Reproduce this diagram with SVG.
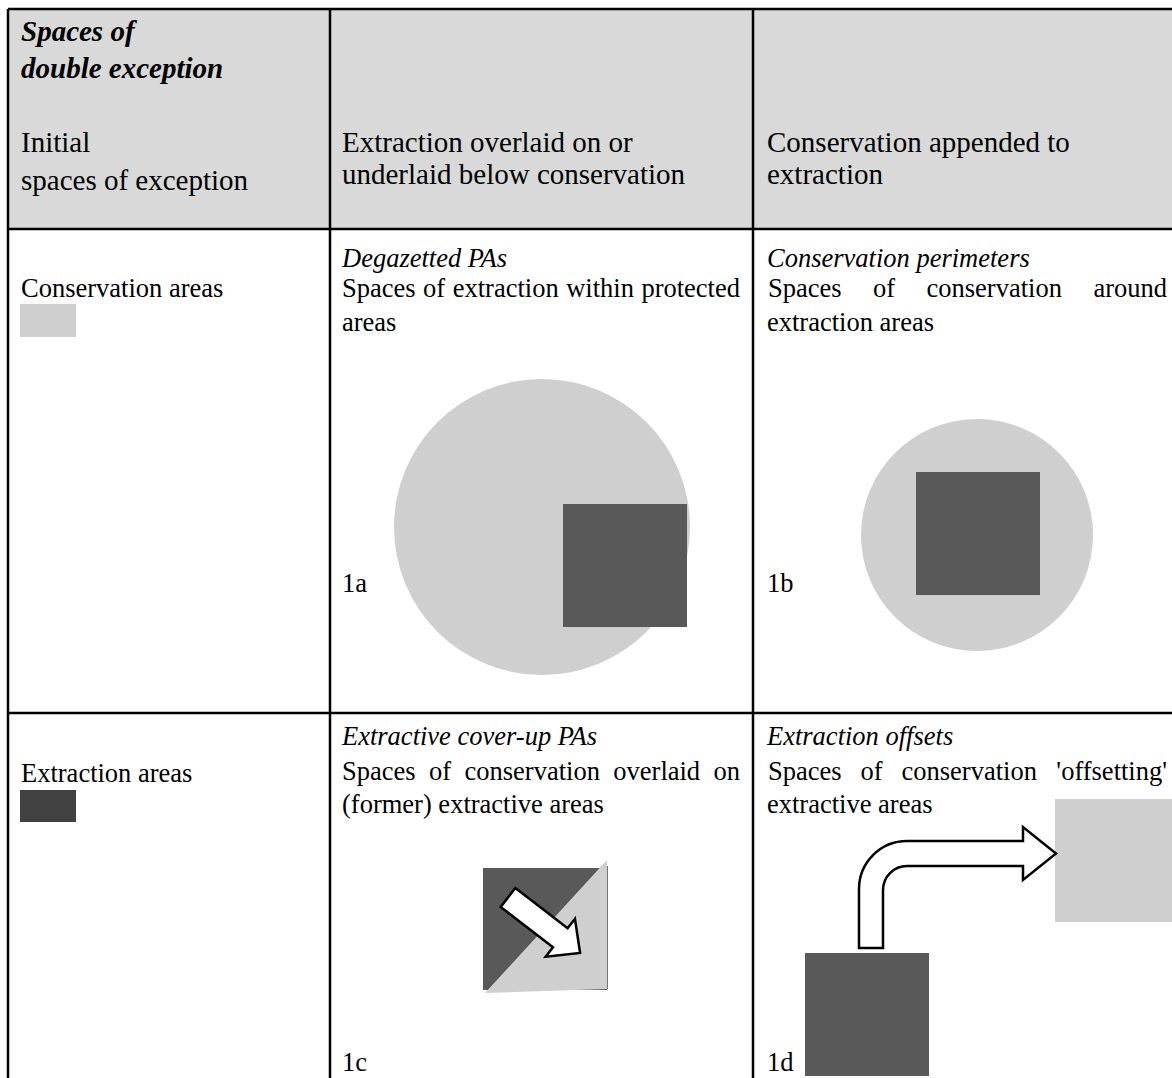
<svg xmlns="http://www.w3.org/2000/svg" width="1172" height="1078" viewBox="0 0 1172 1078">
<style>
text{font-family:"Liberation Serif","Times New Roman",serif;fill:#000}
.h{font-size:29px}
.hb{font-size:29px;font-weight:bold;font-style:italic}
.b{font-size:26.5px}
.i{font-size:26.5px;font-style:italic}
.grid{stroke:#000;stroke-width:2.5;fill:none}
.cons{fill:#d0cfd0}
.extr{fill:#595959}
.arrow{fill:#fff;stroke:#000;stroke-width:2.5;stroke-linejoin:miter}
</style>
<rect x="0" y="0" width="1172" height="1078" fill="#fff"/>
<rect x="8" y="9" width="1166" height="220" fill="#d9d9d9"/>
<g id="grid" class="grid">
<line x1="8" y1="9" x2="1172" y2="9"/>
<line x1="8" y1="9" x2="8" y2="1078"/>
<line x1="330" y1="9" x2="330" y2="1078"/>
<line x1="753" y1="9" x2="753" y2="1078"/>
<line x1="8" y1="229" x2="1172" y2="229"/>
<line x1="8" y1="713" x2="1172" y2="713"/>
</g>
<g id="header-left">
<text class="hb" x="21" y="41">Spaces of</text>
<text class="hb" x="21" y="78">double exception</text>
<text class="h" x="21" y="152">Initial</text>
<text class="h" x="21" y="190">spaces of exception</text>
</g>
<g id="header-mid">
<text class="h" x="342" y="152">Extraction overlaid on or</text>
<text class="h" x="342" y="184">underlaid below conservation</text>
</g>
<g id="header-right">
<text class="h" x="767" y="152">Conservation appended to</text>
<text class="h" x="767" y="184">extraction</text>
</g>
<g id="row-conservation">
<text class="b" x="21" y="297">Conservation areas</text>
<rect class="cons" x="20" y="304" width="56" height="33"/>
</g>
<g id="row-extraction">
<text class="b" x="21" y="782">Extraction areas</text>
<rect x="20" y="790" width="56" height="32" fill="#414141"/>
</g>
<g id="cell-1a">
<text class="i" x="342" y="267">Degazetted PAs</text>
<text class="b" x="342" y="297">Spaces</text>
<text class="b" x="423.1" y="297">of</text>
<text class="b" x="452.7" y="297">extraction</text>
<text class="b" x="566.2" y="297">within</text>
<text class="b" x="740" y="297" text-anchor="end">protected</text>
<text class="b" x="342" y="331">areas</text>
<circle class="cons" cx="542" cy="527" r="148"/>
<rect class="extr" x="563" y="504" width="124" height="123"/>
<text class="b" x="342" y="592">1a</text>
</g>
<g id="cell-1b">
<text class="i" x="767" y="267">Conservation perimeters</text>
<text class="b" x="768" y="297">Spaces</text>
<text class="b" x="873" y="297">of</text>
<text class="b" x="926.5" y="297">conservation</text>
<text class="b" x="1167" y="297" text-anchor="end">around</text>
<text class="b" x="767" y="331">extraction areas</text>
<circle class="cons" cx="977" cy="535" r="116"/>
<rect class="extr" x="916" y="472" width="124" height="123"/>
<text class="b" x="767" y="592">1b</text>
</g>
<g id="cell-1c">
<text class="i" x="342" y="745">Extractive cover-up PAs</text>
<text class="b" x="342" y="780">Spaces</text>
<text class="b" x="429" y="780">of</text>
<text class="b" x="464.5" y="780">conservation</text>
<text class="b" x="613.3" y="780">overlaid</text>
<text class="b" x="740" y="780" text-anchor="end">on</text>
<text class="b" x="342" y="813">(former) extractive areas</text>
<rect class="extr" x="483" y="868" width="124" height="122"/>
<polygon class="cons" points="607,860 607,989 485,993"/>
<line x1="607.5" y1="866" x2="607.5" y2="989" stroke="#777" stroke-width="1"/>
<text class="b" x="342" y="1071">1c</text>
</g>
<g id="cell-1d">
<text class="i" x="767" y="745">Extraction offsets</text>
<text class="b" x="768" y="780">Spaces</text>
<text class="b" x="860.5" y="780">of</text>
<text class="b" x="901.5" y="780">conservation</text>
<text class="b" x="1167" y="780" text-anchor="end">'offsetting'</text>
<text class="b" x="767" y="813">extractive areas</text>
<rect class="cons" x="1055" y="799" width="124" height="123"/>
<rect class="extr" x="805" y="953" width="124" height="123"/>
<text class="b" x="767" y="1071">1d</text>
</g>
<g id="connectors">
<polygon class="arrow" points="0,-12 66,-12 66,-24 91,0 66,24 66,12 0,12" transform="translate(508 897.5) rotate(37.6)"/>
<path class="arrow" d="M859,948 L859,889 A48,48 0 0 1 907,841 L1023,841 L1023,827 L1056,853.5 L1023,880 L1023,866 L907,866 A24,24 0 0 0 883,890 L883,948 Z"/>
</g>
</svg>
